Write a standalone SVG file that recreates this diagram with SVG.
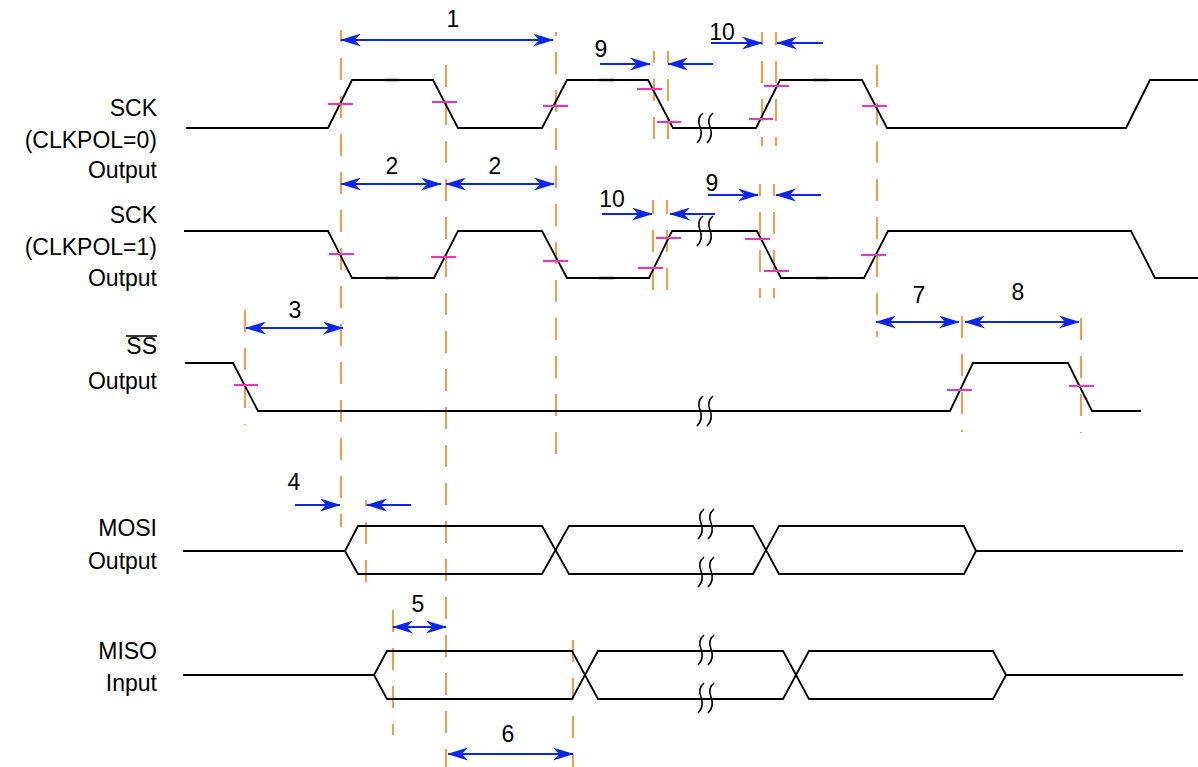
<svg xmlns="http://www.w3.org/2000/svg" width="1198" height="767" viewBox="0 0 1198 767">
<style>
.lbl{font-family:"Liberation Sans",Arial,sans-serif;font-size:23px;fill:#000;text-anchor:end}
.num{font-family:"Liberation Sans",Arial,sans-serif;font-size:23px;fill:#000;text-anchor:middle}
.wave{fill:none;stroke:#000;stroke-width:1.8;stroke-linejoin:miter}
.tk{stroke:#000;stroke-width:2.4}
.dash{stroke:#F89A48;stroke-width:2;stroke-dasharray:22 16;fill:none}
.mk{stroke:#E23CB4;stroke-width:2.2}
.arr{stroke:#0A26EA;stroke-width:2.2;fill:none}
.dbl{marker-start:url(#ah);marker-end:url(#ah)}
.one{marker-end:url(#ah)}
.brk{fill:none;stroke:#000;stroke-width:1.6}
</style>
<defs>
<marker id="ah" viewBox="0 0 21 13" refX="20" refY="6.5" markerWidth="21" markerHeight="13" markerUnits="userSpaceOnUse" orient="auto-start-reverse">
<path d="M0,0 L21,6.5 L0,13 L6,6.5 Z" fill="#0A26EA"/>
</marker>
<g id="brk">
<path class="brk" d="M-2,-15 C-7,-11 -7,-6 -5,-1 C-3,4 -3,10 -8,15"/>
<path class="brk" d="M8,-15 C3,-11 3,-6 5,-1 C7,4 7,10 2,15"/>
</g>
</defs>
<rect width="1198" height="767" fill="#fff"/>

<g id="labels">
<text class="lbl" x="157" y="116">SCK</text>
<text class="lbl" x="157" y="148">(CLKPOL=0)</text>
<text class="lbl" x="157" y="178">Output</text>
<text class="lbl" x="157" y="223">SCK</text>
<text class="lbl" x="157" y="255">(CLKPOL=1)</text>
<text class="lbl" x="157" y="286">Output</text>
<text class="lbl" x="157" y="354">SS</text>
<line x1="126" y1="336" x2="157" y2="336" stroke="#000" stroke-width="1.6"/>
<text class="lbl" x="157" y="389">Output</text>
<text class="lbl" x="157" y="536">MOSI</text>
<text class="lbl" x="157" y="569">Output</text>
<text class="lbl" x="157" y="659">MISO</text>
<text class="lbl" x="157" y="691">Input</text>
</g>

<g id="guides">
<line class="dash" x1="341" y1="30" x2="341" y2="527" stroke-dashoffset="10"/>
<line class="dash" x1="446" y1="65" x2="446" y2="767" stroke-dashoffset="0"/>
<line class="dash" x1="556" y1="32" x2="556" y2="465" stroke-dashoffset="18"/>
<line class="dash" x1="654" y1="51" x2="654" y2="140" stroke-dashoffset="10"/>
<line class="dash" x1="668" y1="51" x2="668" y2="140" stroke-dashoffset="10"/>
<line class="dash" x1="762" y1="32" x2="762" y2="146" stroke-dashoffset="9"/>
<line class="dash" x1="776" y1="32" x2="776" y2="146" stroke-dashoffset="9"/>
<line class="dash" x1="877" y1="65" x2="877" y2="337" stroke-dashoffset="0"/>
<line class="dash" x1="653" y1="200" x2="653" y2="300" stroke-dashoffset="8"/>
<line class="dash" x1="667" y1="200" x2="667" y2="300" stroke-dashoffset="8"/>
<line class="dash" x1="760" y1="184" x2="760" y2="298" stroke-dashoffset="10"/>
<line class="dash" x1="774" y1="184" x2="774" y2="298" stroke-dashoffset="10"/>
<line class="dash" x1="245" y1="310" x2="245" y2="425" stroke-dashoffset="0"/>
<line class="dash" x1="962" y1="316" x2="962" y2="432" stroke-dashoffset="0"/>
<line class="dash" x1="1081" y1="318" x2="1081" y2="433" stroke-dashoffset="0"/>
<line class="dash" x1="366" y1="500" x2="366" y2="595" stroke-dashoffset="16"/>
<line class="dash" x1="393" y1="610" x2="393" y2="735" stroke-dashoffset="0"/>
<line class="dash" x1="573" y1="640" x2="573" y2="767" stroke-dashoffset="0"/>
</g>

<g id="sck0">
<polyline class="wave" points="186,128 328,128 352,80 433,80 458,128 542,128 567,80 648,80 673,128 756,128 780,80 862,80 887,128 1126,128 1150,80 1198,80"/>
<line class="tk" x1="385" y1="80" x2="399" y2="80"/>
<line class="tk" x1="599" y1="80" x2="614" y2="80"/>
<line class="tk" x1="813" y1="80" x2="829" y2="80"/>
<use href="#brk" x="705" y="128"/>
</g>

<g id="sck1">
<polyline class="wave" points="184,231 328,231 352,278 434,278 458,231 542,231 567,278 649,278 672,231 757,231 781,278 864,278 888,231 1131,231 1155,278 1198,278"/>
<line class="tk" x1="385" y1="278" x2="399" y2="278"/>
<line class="tk" x1="599" y1="278" x2="614" y2="278"/>
<line class="tk" x1="816" y1="278" x2="828" y2="278"/>
<use href="#brk" x="705" y="231"/>
</g>

<g id="ss">
<polyline class="wave" points="185,363 233,363 258,411 950,411 973,363 1068,363 1092,411 1141,411"/>
<use href="#brk" x="705" y="411"/>
</g>

<g id="mosi">
<path class="wave" d="M183,551 H345 L358,526 H542 L569,574 H753 L779,526 H964 L976,551 H1183"/>
<path class="wave" d="M345,551 L358,574 H542 L569,526 H753 L779,574 H964 L976,551"/>
<use href="#brk" x="706" y="524"/>
<use href="#brk" x="706" y="572"/>
</g>

<g id="miso">
<path class="wave" d="M183,675 H374 L387,651 H572 L598,699 H783 L809,651 H993 L1006,675 H1183"/>
<path class="wave" d="M374,675 L387,699 H572 L598,651 H783 L809,699 H993 L1006,675"/>
<use href="#brk" x="706" y="650"/>
<use href="#brk" x="706" y="698"/>
</g>

<g id="marks">
<line class="mk" x1="328" y1="104" x2="353" y2="104"/>
<line class="mk" x1="432" y1="102" x2="457" y2="102"/>
<line class="mk" x1="543" y1="106" x2="568" y2="106"/>
<line class="mk" x1="637" y1="89" x2="662" y2="89"/>
<line class="mk" x1="657" y1="122" x2="681" y2="122"/>
<line class="mk" x1="749" y1="119" x2="773" y2="119"/>
<line class="mk" x1="764" y1="86" x2="789" y2="86"/>
<line class="mk" x1="862" y1="106" x2="887" y2="106"/>
<line class="mk" x1="329" y1="254" x2="354" y2="254"/>
<line class="mk" x1="431" y1="257" x2="456" y2="257"/>
<line class="mk" x1="543" y1="261" x2="568" y2="261"/>
<line class="mk" x1="638" y1="268" x2="663" y2="268"/>
<line class="mk" x1="656" y1="238" x2="681" y2="238"/>
<line class="mk" x1="745" y1="239" x2="770" y2="239"/>
<line class="mk" x1="764" y1="271" x2="789" y2="271"/>
<line class="mk" x1="861" y1="255" x2="886" y2="255"/>
<line class="mk" x1="234" y1="385" x2="258" y2="385"/>
<line class="mk" x1="947" y1="390" x2="972" y2="390"/>
<line class="mk" x1="1069" y1="386" x2="1094" y2="386"/>
</g>

<g id="connectors">
<line class="arr dbl" x1="341" y1="40" x2="553" y2="40"/>
<line class="arr dbl" x1="341" y1="184" x2="441" y2="184"/>
<line class="arr dbl" x1="446" y1="184" x2="554" y2="184"/>
<line class="arr one" x1="600" y1="64" x2="650" y2="64"/>
<line class="arr one" x1="713" y1="64" x2="668" y2="64"/>
<line class="arr one" x1="711" y1="43" x2="762" y2="43"/>
<line class="arr one" x1="823" y1="43" x2="777" y2="43"/>
<line class="arr one" x1="602" y1="214" x2="652" y2="214"/>
<line class="arr one" x1="715" y1="214" x2="670" y2="214"/>
<line class="arr one" x1="708" y1="195" x2="758" y2="195"/>
<line class="arr one" x1="821" y1="195" x2="776" y2="195"/>
<line class="arr dbl" x1="246" y1="328" x2="343" y2="328"/>
<line class="arr dbl" x1="876" y1="322" x2="959" y2="322"/>
<line class="arr dbl" x1="965" y1="322" x2="1079" y2="322"/>
<line class="arr one" x1="295" y1="505" x2="340" y2="505"/>
<line class="arr one" x1="411" y1="505" x2="367" y2="505"/>
<line class="arr dbl" x1="393" y1="627" x2="446" y2="627"/>
<line class="arr dbl" x1="448" y1="754" x2="573" y2="754"/>
</g>

<g id="numbers">
<text class="num" x="453" y="27">1</text>
<text class="num" x="392" y="174">2</text>
<text class="num" x="495" y="174">2</text>
<text class="num" x="295" y="318">3</text>
<text class="num" x="294" y="490">4</text>
<text class="num" x="418" y="612">5</text>
<text class="num" x="508" y="742">6</text>
<text class="num" x="919" y="303">7</text>
<text class="num" x="1018" y="300">8</text>
<text class="num" x="601" y="57">9</text>
<text class="num" x="722" y="40">10</text>
<text class="num" x="612" y="207">10</text>
<text class="num" x="712" y="191">9</text>
</g>
</svg>
